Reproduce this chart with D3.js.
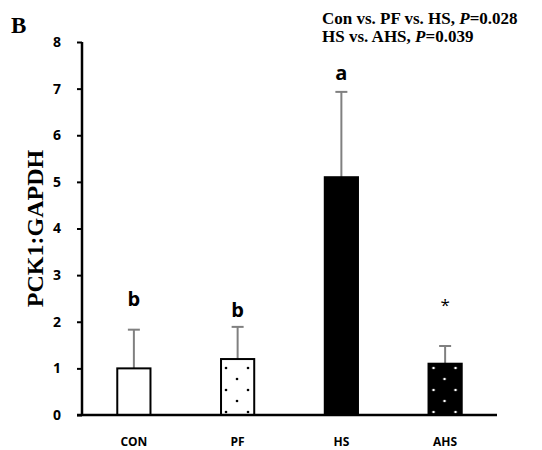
<!DOCTYPE html>
<html>
<head>
<meta charset="utf-8">
<script src="https://cdn.jsdelivr.net/npm/d3@7"></script>
<style>
body { margin:0; background:#fff; }
</style>
</head>
<body>
<div id="chart"></div>
<script>
var groups = ['CON','PF','HS','AHS'];
var means = [1.0, 1.2, 5.1, 1.1];
var errs = [0.83, 0.69, 1.83, 0.38];
var letters = ['b','b','a','*'];
var letterGap = [0.66, 0.36, 0.41, 0.98];   // how far above the error cap each letter sits, in y units
var yTicks = [0,1,2,3,4,5,6,7,8];

var width = 542, height = 450;
var margin = {top: 42, right: 45, bottom: 35, left: 82};

var svg = d3.select("#chart").append("svg")
    .attr("width", width)
    .attr("height", height);

var defs = svg.append("defs");

// dotted fills
function dotPattern(id, bg, dot){
    var p = defs.append("pattern")
        .attr("id", id)
        .attr("patternUnits", "userSpaceOnUse")
        .attr("width", 22)
        .attr("height", 22);
    p.append("rect").attr("width", 22).attr("height", 22).attr("fill", bg);
    [[11,5],[0,16],[22,16]].forEach(function(c){
        p.append("circle").attr("cx", c[0]).attr("cy", c[1]).attr("r", 1.3).attr("fill", dot);
    });
    return p;
}
var pPF = dotPattern("dotsPF", "#fff", "#000");
var pAHS = dotPattern("dotsAHS", "#000", "#fff");

var x = d3.scaleBand()
    .domain(groups)
    .range([margin.left, width - margin.right])
    .paddingInner(0.68)
    .paddingOuter(0.34);

var y = d3.scaleLinear()
    .domain([0, 8])
    .range([height - margin.bottom, margin.top]);

pPF.attr("patternTransform", "translate(" + (x('PF') + 5) + "," + (y(0) + 3) + ")");
pAHS.attr("patternTransform", "translate(" + (x('AHS') + 5) + "," + (y(0) + 3) + ")");

var fills = {CON:"#fff", PF:"url(#dotsPF)", HS:"#000", AHS:"url(#dotsAHS)"};

// error bars (drawn first, bar covers the lower part)
var eb = svg.append("g").attr("stroke", "#808080").attr("stroke-width", 2);
groups.forEach(function(g, i){
    var cx = x(g) + x.bandwidth()/2;
    eb.append("line").attr("x1", cx).attr("x2", cx)
        .attr("y1", y(means[i])).attr("y2", y(means[i] + errs[i]));
    eb.append("line").attr("x1", cx - 6).attr("x2", cx + 6)
        .attr("y1", y(means[i] + errs[i])).attr("y2", y(means[i] + errs[i]));
});

svg.append("g")
    .selectAll("rect")
    .data(groups)
    .enter()
    .append("rect")
    .attr("x", function(d){ return x(d); })
    .attr("y", function(d, i){ return y(means[i]); })
    .attr("width", x.bandwidth())
    .attr("height", function(d, i){ return y(0) - y(means[i]); })
    .attr("fill", function(d){ return fills[d]; })
    .attr("stroke", "#000")
    .attr("stroke-width", 2);

// y axis
var yAxis = svg.append("g")
    .attr("transform", "translate(" + margin.left + ",0)")
    .call(d3.axisLeft(y).tickValues(yTicks).tickSize(5).tickPadding(16));
yAxis.select(".domain").attr("stroke-width", 2.5).attr("d", "M0," + y(8) + "V" + y(0));
yAxis.selectAll(".tick line").attr("stroke-width", 2);
yAxis.selectAll("text")
    .attr("font-family", "'Open Sans', sans-serif")
    .attr("font-weight", "bold")
    .attr("font-size", "14px")
    .attr("fill", "#000");

// x axis line
svg.append("line")
    .attr("x1", margin.left - 5).attr("x2", width - margin.right)
    .attr("y1", y(0)).attr("y2", y(0))
    .attr("stroke", "#000").attr("stroke-width", 2.5);

// category labels
svg.append("g")
    .selectAll("text")
    .data(groups)
    .enter()
    .append("text")
    .attr("x", function(d){ return x(d) + x.bandwidth()/2; })
    .attr("y", y(0) + 31)
    .attr("text-anchor", "middle")
    .attr("font-family", "'Open Sans', sans-serif")
    .attr("font-weight", "bold")
    .attr("font-size", "12px")
    .text(function(d){ return d; });

// significance letters, centred vertically on their spot
svg.append("g")
    .selectAll("text")
    .data(groups)
    .enter()
    .append("text")
    .attr("x", function(d){ return x(d) + x.bandwidth()/2; })
    .attr("y", function(d, i){ return y(means[i] + errs[i] + letterGap[i]) + (letters[i] == '*' ? 11 : 7); })
    .attr("text-anchor", "middle")
    .attr("font-family", "'Open Sans', sans-serif")
    .attr("font-weight", function(d, i){ return letters[i] == '*' ? "normal" : "bold"; })
    .attr("font-size", function(d, i){ return letters[i] == '*' ? "17px" : "20px"; })
    .text(function(d, i){ return letters[i]; });

// y title
svg.append("text")
    .attr("transform", "translate(43," + ((y(0) + y(8)) / 2 + 0) + ") rotate(-90)")
    .attr("text-anchor", "middle")
    .attr("font-family", "'Liberation Serif', serif")
    .attr("font-weight", "bold")
    .attr("font-size", "24px")
    .text("PCK1:GAPDH");

// panel letter
svg.append("text")
    .attr("x", 11).attr("y", 33)
    .attr("font-family", "'Liberation Serif', serif")
    .attr("font-weight", "bold")
    .attr("font-size", "23px")
    .text("B");

// p-values
var ann = svg.append("g")
    .attr("font-family", "'Liberation Serif', serif")
    .attr("font-weight", "bold")
    .attr("font-size", "17px");
var t1 = ann.append("text").attr("x", 322).attr("y", 24);
t1.append("tspan").text("Con vs. PF vs. HS, ");
t1.append("tspan").attr("font-style", "italic").text("P");
t1.append("tspan").text("=0.028");
var t2 = ann.append("text").attr("x", 322).attr("y", 42);
t2.append("tspan").text("HS vs. AHS, ");
t2.append("tspan").attr("font-style", "italic").text("P");
t2.append("tspan").text("=0.039");
</script>
</body>
</html>
